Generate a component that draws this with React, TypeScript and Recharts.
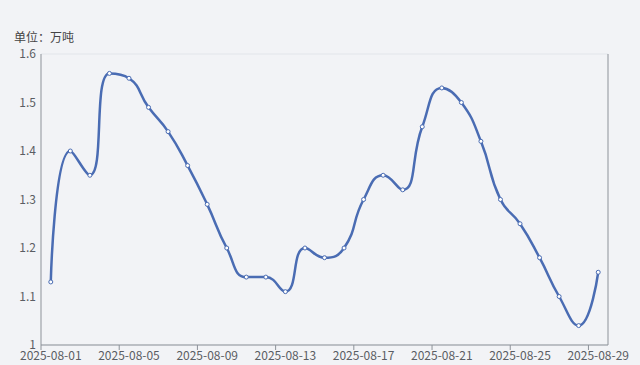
import { ComposedChart, Line, XAxis, YAxis, CartesianGrid } from "recharts";

const dates = [
  "2025-08-01", "2025-08-02", "2025-08-03", "2025-08-04", "2025-08-05", "2025-08-06",
  "2025-08-07", "2025-08-08", "2025-08-09", "2025-08-10", "2025-08-11", "2025-08-12",
  "2025-08-13", "2025-08-14", "2025-08-15", "2025-08-16", "2025-08-17", "2025-08-18",
  "2025-08-19", "2025-08-20", "2025-08-21", "2025-08-22", "2025-08-23", "2025-08-24",
  "2025-08-25", "2025-08-26", "2025-08-27", "2025-08-28", "2025-08-29",
];
const amounts = [
  1.13, 1.4, 1.35, 1.56, 1.55, 1.49, 1.44, 1.37, 1.29, 1.2, 1.14, 1.14, 1.11, 1.2, 1.18,
  1.2, 1.3, 1.35, 1.32, 1.45, 1.53, 1.5, 1.42, 1.3, 1.25, 1.18, 1.1, 1.04, 1.15,
];
const yTicks = [1, 1.1, 1.2, 1.3, 1.4, 1.5, 1.6];
const unitLabel = "单位：万吨";

const data = dates.map((d, i) => ({ date: d, value: amounts[i] }));

const FONT = "'Noto Sans CJK SC', 'Noto Sans', sans-serif";

// smooth curve in the style of echarts' "smooth: true" (clamped bezier)
const smoothCurve = (ctx: any) => {
  let pts: number[][] = [];
  return {
    areaStart() {},
    areaEnd() {},
    lineStart() {
      pts = [];
    },
    point(x: number, y: number) {
      pts.push([+x, +y]);
    },
    lineEnd() {
      const n = pts.length;
      if (!n) return;
      const s = 0.5;
      ctx.moveTo(pts[0][0], pts[0][1]);
      let cpx0 = pts[0][0];
      let cpy0 = pts[0][1];
      for (let i = 1; i < n; i++) {
        const [x, y] = pts[i];
        const [px, py] = pts[i - 1];
        let cpx1 = x;
        let cpy1 = y;
        let ncx = x;
        let ncy = y;
        if (i < n - 1) {
          const [nx, ny] = pts[i + 1];
          let vx = nx - px;
          let vy = ny - py;
          const lp = Math.hypot(x - px, y - py);
          const ln = Math.hypot(nx - x, ny - y);
          const r = ln / (ln + lp);
          ncx = x + vx * s * r;
          ncy = y + vy * s * r;
          ncx = Math.max(Math.min(ncx, Math.max(nx, x)), Math.min(nx, x));
          ncy = Math.max(Math.min(ncy, Math.max(ny, y)), Math.min(ny, y));
          vx = ncx - x;
          vy = ncy - y;
          cpx1 = x - (vx * lp) / ln;
          cpy1 = y - (vy * lp) / ln;
          cpx1 = Math.max(Math.min(cpx1, Math.max(px, x)), Math.min(px, x));
          cpy1 = Math.max(Math.min(cpy1, Math.max(py, y)), Math.min(py, y));
          vx = x - cpx1;
          vy = y - cpy1;
          ncx = x + (vx * ln) / lp;
          ncy = y + (vy * ln) / lp;
        }
        ctx.bezierCurveTo(cpx0, cpy0, cpx1, cpy1, x, y);
        cpx0 = ncx;
        cpy0 = ncy;
      }
    },
  };
};

const DateTick = (props: any) => {
  const { x, y, payload } = props;
  const off = payload.offset || 0;
  return (
    <g>
      <line x1={x - off} x2={x - off} y1={y - 6} y2={y - 1} stroke="#8d9299" />
      <text x={x} y={y} dy="0.71em" textAnchor="middle" fill="#5a5d63" fontSize={12} fontFamily={FONT}>
        {payload.value}
      </text>
    </g>
  );
};

export default function App() {
  return (
    <div style={{ position: "fixed", left: 0, top: 0, width: 640, height: 365, background: "#f2f3f6" }}>
      <div style={{ position: "absolute", left: 14, top: 28, fontSize: 12, color: "#444", fontFamily: FONT }}>
        {unitLabel}
      </div>
      <ComposedChart width={640} height={365} data={data} margin={{ top: 54, right: 31, bottom: 0, left: 0 }}>
        <CartesianGrid vertical={false} stroke="#e2e5ea" />
        <XAxis
          dataKey="date"
          scale="band"
          interval={3}
          tickSize={5}
          tickMargin={1}
          tickLine={false}
          height={20}
          axisLine={{ stroke: "#8d9299" }}
          tick={<DateTick />}
        />
        <YAxis
          yAxisId="left"
          domain={[1, 1.6]}
          ticks={yTicks}
          width={41}
          tickSize={0}
          tickMargin={5}
          tickLine={false}
          axisLine={{ stroke: "#8d9299" }}
          tick={{ fill: "#5a5d63", fontSize: 12, fontFamily: FONT }}
          tickFormatter={(v: number) => String(v)}
        />
        <YAxis
          yAxisId="right"
          orientation="right"
          width={1}
          tick={false}
          tickLine={false}
          axisLine={{ stroke: "#8d9299" }}
        />
        <Line
          yAxisId="left"
          dataKey="value"
          type={smoothCurve as any}
          stroke="#4a6cb3"
          strokeWidth={2.5}
          dot={{ r: 2, fill: "#fff", stroke: "#4a6cb3", strokeWidth: 1 }}
          isAnimationActive={false}
        />
      </ComposedChart>
    </div>
  );
}
